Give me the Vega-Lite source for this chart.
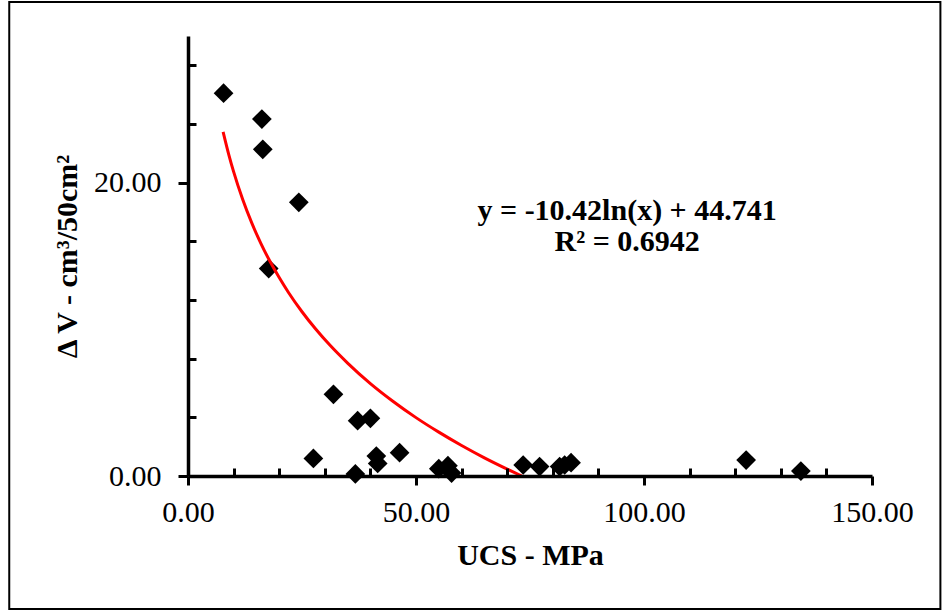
{
  "$schema": "https://vega.github.io/schema/vega-lite/v6.json",
  "width": 684,
  "height": 440,
  "autosize": {"type": "none"},
  "padding": {"left": 188, "top": 36, "right": 70, "bottom": 139},
  "background": "white",
  "config": {"view": {"stroke": null}, "font": "Liberation Serif"},
  "datasets": {
    "points": [
      {"ucs": 7.8, "dv": 26.1},
      {"ucs": 16.2, "dv": 24.34},
      {"ucs": 16.4, "dv": 22.27},
      {"ucs": 24.3, "dv": 18.66},
      {"ucs": 17.7, "dv": 14.14},
      {"ucs": 27.5, "dv": 1.2},
      {"ucs": 31.9, "dv": 5.57},
      {"ucs": 37.2, "dv": 3.77},
      {"ucs": 40.0, "dv": 3.93},
      {"ucs": 36.7, "dv": 0.14},
      {"ucs": 41.3, "dv": 1.36},
      {"ucs": 41.6, "dv": 0.86},
      {"ucs": 46.4, "dv": 1.59},
      {"ucs": 55.0, "dv": 0.5},
      {"ucs": 57.0, "dv": 0.7},
      {"ucs": 57.8, "dv": 0.2},
      {"ucs": 73.5, "dv": 0.75},
      {"ucs": 77.1, "dv": 0.64},
      {"ucs": 81.5, "dv": 0.64},
      {"ucs": 82.6, "dv": 0.75},
      {"ucs": 84.0, "dv": 0.91},
      {"ucs": 122.4, "dv": 1.09},
      {"ucs": 134.4, "dv": 0.34}
    ],
    "trend": [
      {"ucs": 7.7, "dv": 23.47},
      {"ucs": 9, "dv": 21.85},
      {"ucs": 10, "dv": 20.75},
      {"ucs": 12, "dv": 18.85},
      {"ucs": 14, "dv": 17.24},
      {"ucs": 16, "dv": 15.85},
      {"ucs": 18, "dv": 14.62},
      {"ucs": 20, "dv": 13.53},
      {"ucs": 22, "dv": 12.53},
      {"ucs": 25, "dv": 11.2},
      {"ucs": 28, "dv": 10.02},
      {"ucs": 31, "dv": 8.96},
      {"ucs": 35, "dv": 7.7},
      {"ucs": 40, "dv": 6.3},
      {"ucs": 45, "dv": 5.08},
      {"ucs": 50, "dv": 3.98},
      {"ucs": 55, "dv": 2.99},
      {"ucs": 60, "dv": 2.08},
      {"ucs": 65, "dv": 1.24},
      {"ucs": 70, "dv": 0.47},
      {"ucs": 73.2, "dv": 0}
    ]
  },
  "layer": [
    {
      "data": {"name": "points"},
      "mark": {"type": "point", "shape": "diamond", "filled": true, "color": "black", "size": 390, "opacity": 1},
      "encoding": {
        "x": {
          "field": "ucs", "type": "quantitative",
          "scale": {"domain": [0, 150], "nice": false, "zero": false},
          "axis": {
            "orient": "bottom", "zindex": 1,
            "values": [0, 10, 20, 30, 40, 50, 60, 70, 80, 90, 100, 110, 120, 130, 140, 150],
            "labelExpr": "datum.value % 50 === 0 ? format(datum.value, '.2f') : ''",
            "grid": false, "ticks": true,
            "tickSize": {"condition": {"test": "datum.value % 50 === 0", "value": 9}, "value": -8},
            "tickWidth": 3, "tickColor": "black",
            "domain": true, "domainColor": "black", "domainWidth": 3.5,
            "labelFont": "Liberation Serif", "labelFontSize": 30, "labelColor": "black",
            "labelPadding": 12, "labelFlush": false, "labelOverlap": false, "labelBound": false,
            "title": "UCS - MPa", "titleFont": "Liberation Serif", "titleFontSize": 30,
            "titleFontWeight": "bold", "titleColor": "black", "titlePadding": 13
          }
        },
        "y": {
          "field": "dv", "type": "quantitative",
          "scale": {"domain": [0, 30], "nice": false, "zero": false},
          "axis": {
            "orient": "left", "zindex": 1,
            "values": [0, 1, 2, 3, 4, 5, 6, 7, 8, 9, 10, 11, 12, 13, 14, 15, 16, 17, 18, 19, 20, 21, 22, 23, 24, 25, 26, 27, 28, 29, 30],
            "labelExpr": "datum.value % 5 === 0 ? format(datum.value, '.2f') : ''",
            "grid": false, "ticks": true,
            "tickSize": {"condition": {"test": "datum.value % 5 === 0", "value": 10}, "value": -8},
            "tickWidth": 3, "tickColor": "black",
            "domain": true, "domainColor": "black", "domainWidth": 3.5,
            "labelFont": "Liberation Serif", "labelFontSize": 30, "labelColor": "black",
            "labelPadding": 17, "labelFlush": false, "labelOverlap": false, "labelBound": false,
            "title": "Δ V - cm³/50cm²", "titleFont": "Liberation Serif", "titleFontSize": 30,
            "titleFontWeight": "bold", "titleColor": "black", "titlePadding": 11
          }
        }
      }
    },
    {
      "data": {"name": "trend"},
      "mark": {"type": "line", "color": "#FF0000", "strokeWidth": 3, "interpolate": "monotone"},
      "encoding": {
        "x": {"field": "ucs", "type": "quantitative"},
        "y": {"field": "dv", "type": "quantitative"}
      }
    },
    {
      "data": {"values": [{"label": "y = -10.42ln(x) + 44.741\nR² = 0.6942"}]},
      "mark": {"type": "text", "align": "center", "baseline": "alphabetic", "lineBreak": "\n", "lineHeight": 31, "font": "Liberation Serif", "fontSize": 30, "fontWeight": "bold", "color": "black"},
      "encoding": {
        "text": {"field": "label"},
        "x": {"datum": 96.3, "type": "quantitative"},
        "y": {"datum": 17.45, "type": "quantitative"}
      }
    },
    {
      "data": {"values": [{"frame": "chart area"}]},
      "mark": {"type": "rect", "fill": null, "stroke": "black", "strokeWidth": 2, "clip": false},
      "encoding": {
        "x": {"datum": -39.2, "type": "quantitative"},
        "x2": {"datum": 165.0},
        "y": {"datum": 32.32, "type": "quantitative"},
        "y2": {"datum": -9.07}
      }
    }
  ]
}
